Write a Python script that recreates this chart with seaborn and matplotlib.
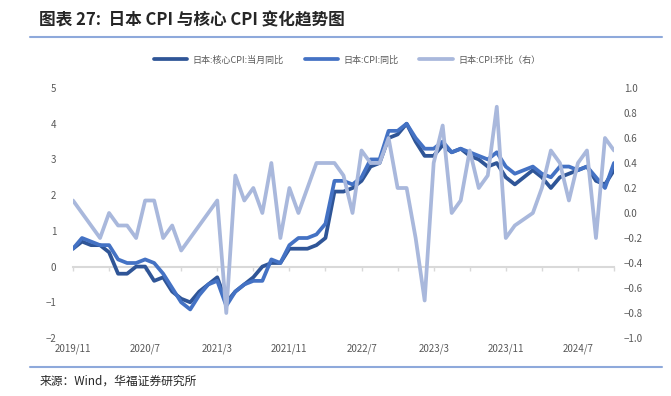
import matplotlib
matplotlib.use("Agg")
import matplotlib.pyplot as plt
from matplotlib.lines import Line2D
from matplotlib.ticker import FuncFormatter, MultipleLocator
import numpy as np
import pandas as pd
import seaborn as sns

# monthly, 2019/11 .. 2024/11
months = pd.date_range("2019-11-01", periods=61, freq="MS")
month_labels = [f"{d.year}/{d.month}" for d in months]

core_yoy = [0.5, 0.7, 0.6, 0.6, 0.4, -0.2, -0.2, 0.0, 0.0, -0.4,
            -0.3, -0.7, -0.9, -1.0, -0.7, -0.5, -0.3, -1.0, -0.7, -0.5,
            -0.3, 0.0, 0.1, 0.1, 0.5, 0.5, 0.5, 0.6, 0.8, 2.1,
            2.1, 2.2, 2.4, 2.8, 2.9, 3.6, 3.7, 4.0, 3.5, 3.1,
            3.1, 3.4, 3.2, 3.3, 3.1, 3.0, 2.8, 2.9, 2.5, 2.3,
            2.5, 2.7, 2.5, 2.2, 2.5, 2.6, 2.7, 2.8, 2.4, 2.3,
            2.7]
cpi_yoy = [0.5, 0.8, 0.7, 0.6, 0.6, 0.2, 0.1, 0.1, 0.2, 0.1,
           -0.2, -0.6, -1.0, -1.2, -0.8, -0.5, -0.4, -1.1, -0.7, -0.5,
           -0.4, -0.4, 0.2, 0.1, 0.6, 0.8, 0.8, 0.9, 1.2, 2.4,
           2.4, 2.3, 2.5, 3.0, 3.0, 3.8, 3.8, 4.0, 3.6, 3.3,
           3.3, 3.5, 3.2, 3.3, 3.2, 3.1, 3.0, 3.2, 2.8, 2.6,
           2.7, 2.8, 2.6, 2.5, 2.8, 2.8, 2.7, 2.8, 2.5, 2.2,
           2.9]
cpi_mom = [0.1, 0.0, -0.1, -0.2, 0.0, -0.1, -0.1, -0.2, 0.1, 0.1,
           -0.2, -0.1, -0.3, -0.2, -0.1, 0.0, 0.1, -0.8, 0.3, 0.1,
           0.2, 0.0, 0.4, -0.2, 0.2, 0.0, 0.2, 0.4, 0.4, 0.4,
           0.3, 0.0, 0.5, 0.4, 0.4, 0.6, 0.2, 0.2, -0.2, -0.7,
           0.4, 0.7, 0.0, 0.1, 0.5, 0.2, 0.3, 0.85, -0.2, -0.1,
           -0.05, 0.0, 0.2, 0.5, 0.4, 0.1, 0.4, 0.5, -0.2, 0.6,
           0.5]

series_names = ["日本:核心CPI:当月同比", "日本:CPI:同比", "日本:CPI:环比（右）"]
colors = ["#2F5597", "#4472C4", "#A9B8DC"]

sns.set_theme(style="white")
plt.rcParams["font.family"] = ["Noto Sans CJK SC", "DejaVu Sans"]

W, H = 671, 396
fig = plt.figure(figsize=(W / 100, H / 100), dpi=100)
ax = fig.add_axes([73 / W, 1 - 338 / H, (614 - 73) / W, 250 / H])

x = np.arange(len(months))
sns.lineplot(x=x, y=core_yoy, ax=ax, color=colors[0], lw=2.7, label=series_names[0])
sns.lineplot(x=x, y=cpi_yoy, ax=ax, color=colors[1], lw=2.7, label=series_names[1])

ax2 = ax.twinx()
sns.lineplot(x=x, y=cpi_mom, ax=ax2, color=colors[2], lw=2.7, label=series_names[2])

ax.set_xlim(0, len(x) - 1)
ax.set_ylim(-2, 5)
ax2.set_ylim(-1, 1)
ax.yaxis.set_major_locator(MultipleLocator(1))
ax2.yaxis.set_major_locator(MultipleLocator(0.2))
ax.yaxis.set_major_formatter(FuncFormatter(lambda v, p: f"{v:.0f}".replace("-", "\u2212")))
ax2.yaxis.set_major_formatter(FuncFormatter(lambda v, p: f"{v:.1f}".replace("-", "\u2212")))

ax.set_xticks(x[::8])
ax.set_xticklabels(month_labels[::8])

tick_gray = "#595959"
ax.tick_params(axis="both", length=0, labelsize=7, labelcolor=tick_gray)
ax.tick_params(axis="y", pad=12)
ax.tick_params(axis="x", pad=4)
ax2.tick_params(axis="y", length=0, labelsize=7, labelcolor=tick_gray, pad=7)

for a in (ax, ax2):
    for s in a.spines.values():
        s.set_visible(False)
    a.set_xlabel("")
    a.set_ylabel("")
    a.grid(False)

# zero line with small category ticks
zero_pos = (0 - ax.get_ylim()[0]) / (ax.get_ylim()[1] - ax.get_ylim()[0])
sec = ax.secondary_xaxis(zero_pos)
sec.set_xticks(x[::4])
sec.tick_params(axis="x", length=3, width=1, color="#D9D9D9", labelbottom=False)
sec.spines["bottom"].set_color("#D9D9D9")
sec.spines["bottom"].set_linewidth(1.5)

handles = ax.get_legend().legend_handles + ax2.get_legend().legend_handles
ax.get_legend().remove()
ax2.get_legend().remove()
for h in handles:
    h.set_linewidth(2.7)
leg = fig.legend(handles, series_names, loc="center", bbox_to_anchor=(347 / W, 1 - 60 / H),
                 ncol=3, frameon=False, fontsize=6.5, handlelength=3.7,
                 columnspacing=2.3, handletextpad=0.6)
for t in leg.get_texts():
    t.set_color(tick_gray)

fig.text(39 / W, 1 - 20 / H, "图表 27:  日本 CPI 与核心 CPI 变化趋势图",
         fontsize=12, fontweight="bold", ha="left", va="center")
fig.add_artist(Line2D([30 / W, 662 / W], [1 - 37 / H] * 2, color="#8EA9DB", lw=1.5))
fig.add_artist(Line2D([30 / W, 662 / W], [1 - 367 / H] * 2, color="#8EA9DB", lw=1.5))
fig.text(40 / W, 1 - 381 / H, "来源：Wind，华福证券研究所", fontsize=8.5, ha="left", va="center")

fig.savefig("out.png", dpi=100)
